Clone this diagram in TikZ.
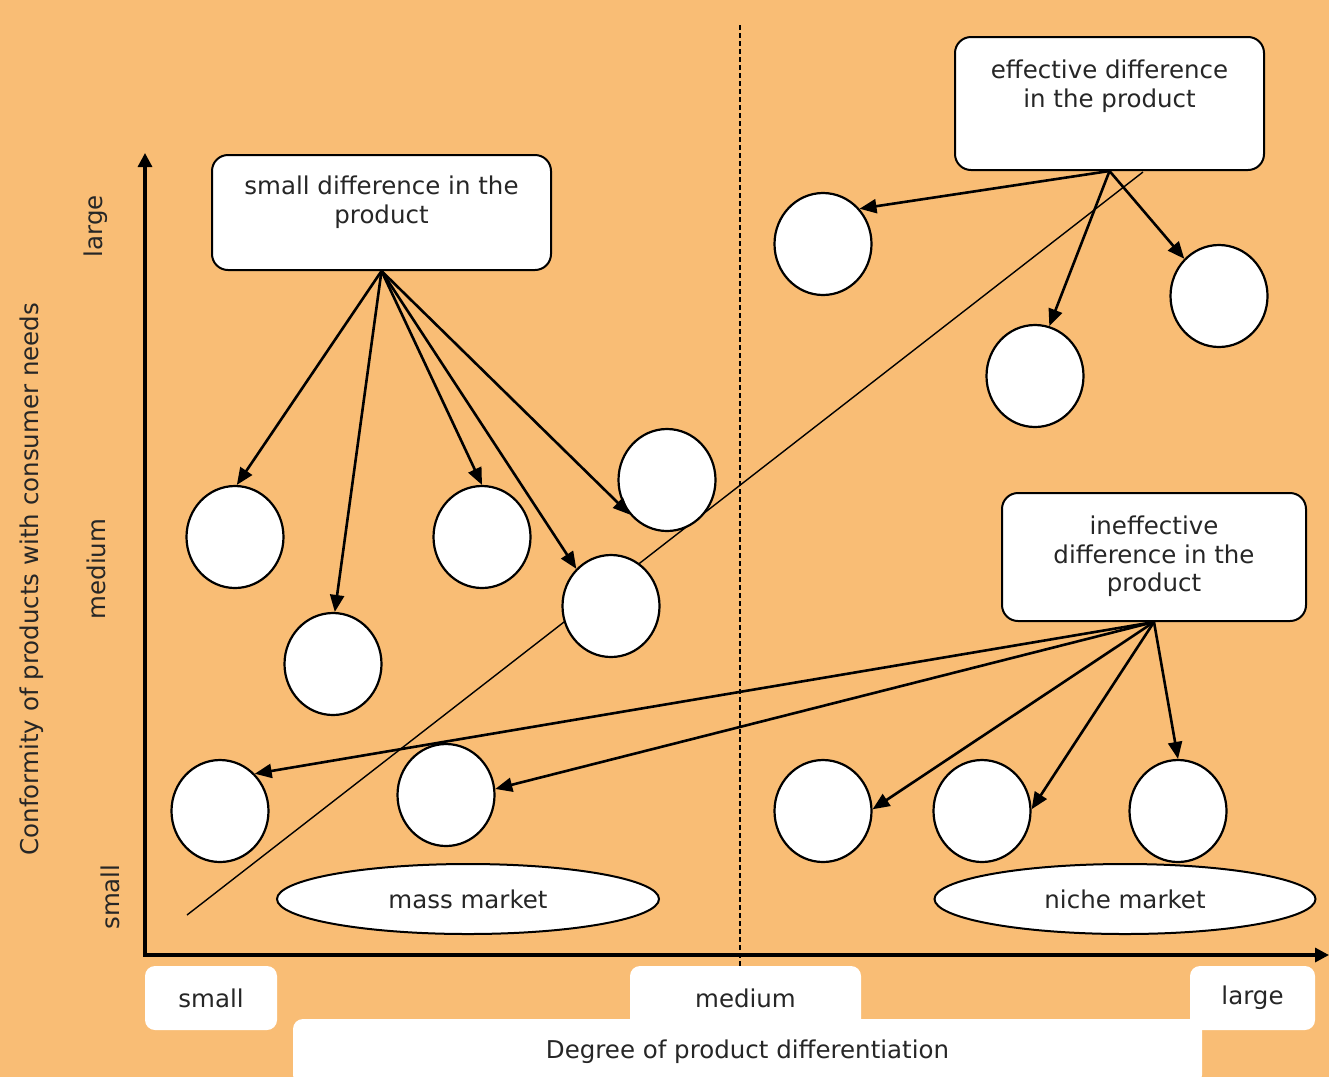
\documentclass[tikz,border=0pt]{standalone}
\usepackage{fontspec}
\setmainfont{DejaVu Sans}
\usetikzlibrary{shapes.geometric,arrows.meta}
\definecolor{bg}{RGB}{249,189,117}
\definecolor{txt}{RGB}{38,38,38}
\begin{document}
\begin{tikzpicture}[x=1pt,y=-1pt,
  every node/.style={font=\fontsize{24.5}{28.5}\selectfont, text=txt},
  bubble/.style={ellipse, draw=black, line width=2.2pt, fill=white, minimum width=97pt, minimum height=102pt, inner sep=0pt},
  topbox/.style={draw=black, line width=2pt, fill=white, rounded corners=16pt, inner sep=0pt},
  boxtext/.style={anchor=north, inner sep=0pt, align=center},
  link/.style={line width=2.6pt, -{Triangle[length=17pt,width=14pt]}},
  market/.style={ellipse, draw=black, line width=2pt, fill=white, inner sep=0pt, minimum height=70pt},
  tab/.style={fill=white, rounded corners=10pt, inner sep=0pt},
  axisline/.style={line width=3.2pt, line join=miter, {Triangle[length=14pt,width=14pt]}-{Triangle[length=14pt,width=14pt]}}
]
% background
\fill[bg] (0,0) rectangle (1329,1077);
\useasboundingbox (0,0) rectangle (1329,1077);

% dashed medium line and diagonal
\coordinate (v1) at (740,25);
\coordinate (v2) at (740,968);
\draw[line width=1.6pt, dash pattern=on 5pt off 3pt] (v1) -- (v2);
\coordinate (d1) at (187,915);
\coordinate (d2) at (1143,172);
\draw[line width=1.4pt] (d1) -- (d2);

% axes
\coordinate (o) at (145,955);
\coordinate (ytop) at (145,153);
\coordinate (xend) at (1329,955);
\draw[axisline] (ytop) -- (o) -- (xend);

% axis labels
\node[rotate=90] (ylarge) at (96,226) {large};
\node[rotate=90] (ymedium) at (96,569) {medium};
\node[rotate=90] (ysmall) at (110,897) {small};
\node[rotate=90] (ytitle) at (32,579) {Conformity of products with consumer needs};

\node[tab, minimum width=909pt, minimum height=66pt] (xtitle) at (747.5,1052) {Degree of product differentiation};
\node[tab, minimum width=132pt, minimum height=64pt] (xsmall) at (211,998) {small};
\node[tab, minimum width=231pt, minimum height=64pt] (xmedium) at (745.5,998) {medium};
\node[tab, minimum width=125pt, minimum height=64pt] (xlarge) at (1252.5,998) {large};

% boxes
\node[topbox, minimum width=339pt, minimum height=115pt] (b1) at (381.5,212.5) {};
\node[boxtext] (t1) at ([yshift=-22pt]b1.north) {small difference in the\\product};
\node[topbox, minimum width=309pt, minimum height=133pt] (b2) at (1109.5,103.5) {};
\node[boxtext] (t2) at ([yshift=-24pt]b2.north) {effective difference\\in the product};
\node[topbox, minimum width=304pt, minimum height=128pt] (b3) at (1154,557) {};
\node[boxtext] (t3) at ([yshift=-24pt]b3.north) {ineffective\\difference in the\\product};

% bubbles
\node[bubble] (c1) at (235,537) {};
\node[bubble] (c2) at (333,664) {};
\node[bubble] (c3) at (482,537) {};
\node[bubble] (c4) at (667,480) {};
\node[bubble] (c5) at (611,606) {};
\node[bubble] (c6) at (823,244) {};
\node[bubble] (c7) at (1035,376) {};
\node[bubble] (c8) at (1219,296) {};
\node[bubble] (c9) at (220,811) {};
\node[bubble] (c10) at (446,795) {};
\node[bubble] (c11) at (823,811) {};
\node[bubble] (c12) at (982,811) {};
\node[bubble] (c13) at (1178,811) {};

% markets
\node[market, minimum width=382pt] (mass) at (468,899) {mass market};
\node[market, minimum width=381pt] (niche) at (1125,899) {niche market};

% arrows
\draw[link] (b1.south) -- (c1.88);
\draw[link] (b1.south) -- (c2.88);
\draw[link] (b1.south) -- (c3.90);
\draw[link] (b1.south) -- (c5.133);
\draw[link] (b1.south) -- (c4.223);

\draw[link] (b2.south) -- (c6.44);
\draw[link] (b2.south) -- (c7.74);
\draw[link] (b2.south) -- (c8.133);

\draw[link] (b3.south) -- (c9.47);
\draw[link] (b3.south) -- (c10.7);
\draw[link] (b3.south) -- (c11.2);
\draw[link] (b3.south) -- (c12.2);
\draw[link] (b3.south) -- (c13.90);
\end{tikzpicture}
\end{document}
